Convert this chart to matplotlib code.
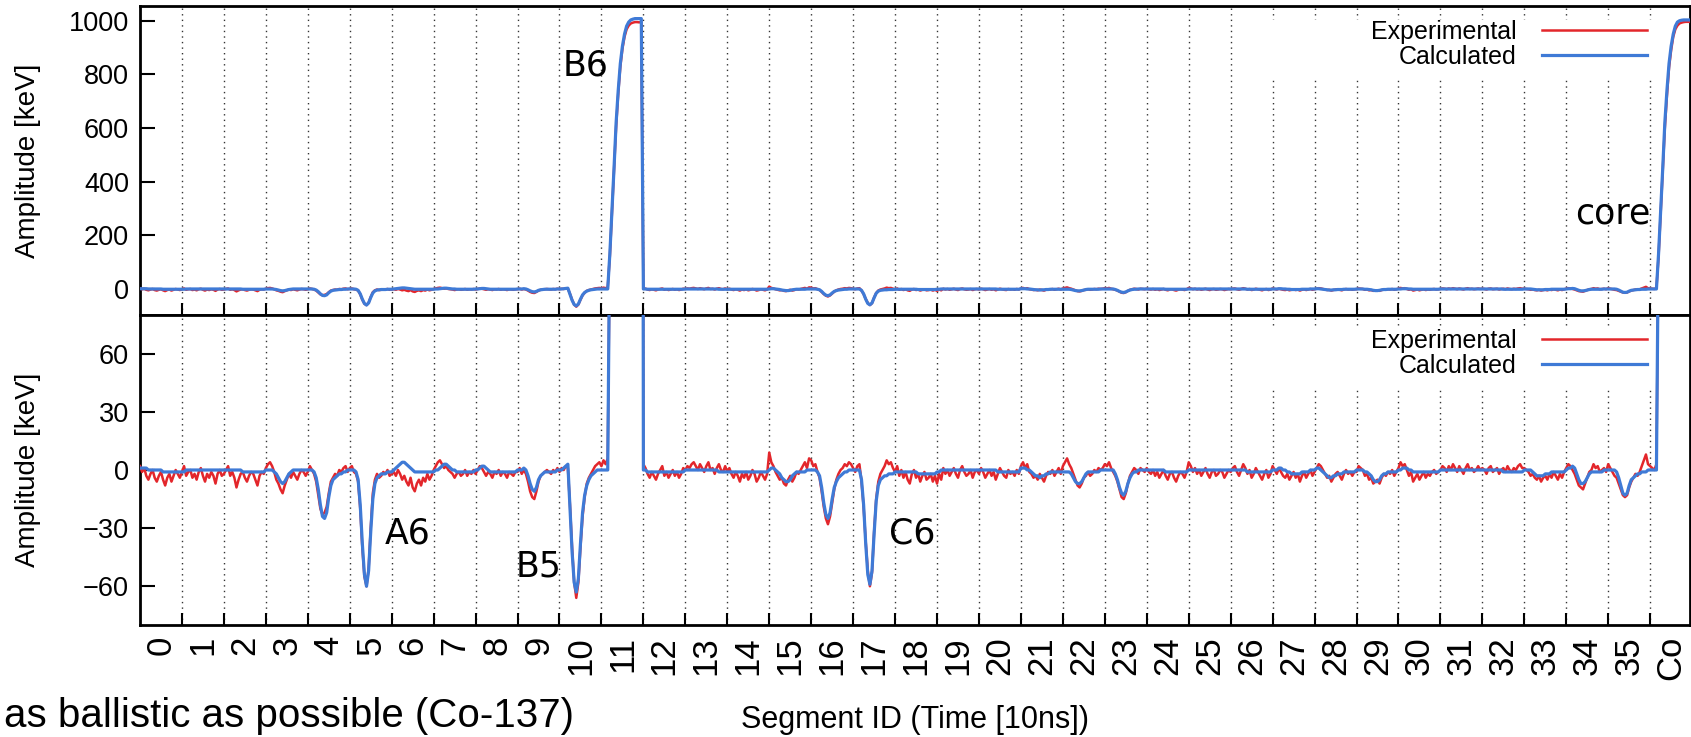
import numpy as np
import matplotlib
matplotlib.use("Agg")
from matplotlib import pyplot as plt
from matplotlib.patches import Rectangle

plt.rcParams['font.family'] = ['Liberation Sans', 'DejaVu Sans']

segment_ids = ['0', '1', '2', '3', '4', '5', '6', '7', '8', '9', '10', '11',
               '12', '13', '14', '15', '16', '17', '18', '19', '20', '21', '22',
               '23', '24', '25', '26', '27', '28', '29', '30', '31', '32', '33',
               '34', '35', 'Co']

# calculated trace, 20 samples (10 ns each) per segment, keV
calculated = [
    [1, 1, 1, 1, 0, 0, 0, 0, 0, 0, 0, -1, -1, -1, -1, -1, -1, -1, -1, -1],
    [-1, -1, 0, 0, 0, 0, 0, 0, 0, 0, 0, 0, 0, 0, 0, 0, 0, 0, 0, 0],
    [0, 0, 0, 0, 0, 0, 0, 0, 0, -1, -1, -1, -1, -1, -1, -1, -1, -1, -1, -1],
    [0, 0, 0, 0, -1, -2, -4, -6, -7, -6, -4, -2, -1, 0, 0, 0, 0, 0, 0, 0],
    [0, 0, 0, -1, -4, -10, -18, -24, -25, -22, -14, -8, -5, -4, -3, -2, -2, -1, -1, 0],
    [0, 0, 0, -1, -5, -18, -38, -54, -60, -52, -32, -15, -7, -4, -3, -2, -2, -2, -1, -1],
    [-1, 0, 1, 2, 3, 4, 4, 3, 2, 1, 0, -1, -1, -1, -1, -1, -1, -1, -1, -1],
    [-1, 0, 0, 1, 2, 3, 3, 2, 1, 0, 0, -1, -1, -1, -1, -1, -1, -1, -1, -1],
    [0, 0, 1, 2, 2, 1, 0, -1, -1, -1, -1, -1, -1, -1, -1, -1, -1, -1, -1, -1],
    [0, 0, 0, 1, 0, -3, -7, -10, -11, -9, -5, -3, -2, -1, -1, -1, -1, -1, -1, 0],
    [0, 0, 1, 2, 3, -20, -42, -58, -63, -56, -38, -22, -13, -8, -5, -3, -2, -1, 0, 0],
    [0, 0, 0, 0, 130, 290, 450, 620, 740, 840, 905, 950, 980, 995, 1003, 1006, 1008, 1008, 1008, 1008],
    [0, 0, -1, -1, -1, -1, -1, -1, -1, -1, -1, -1, -1, -1, -1, -1, -1, -1, -1, -1],
    [0, 0, 0, 0, 0, 0, 0, 0, 0, 0, 0, 0, 0, 0, 0, 0, -1, -1, -1, -1],
    [-1, -1, -1, -1, -1, -1, -1, -1, -1, -1, -1, -1, -1, -1, -1, -1, -1, -1, -1, -1],
    [0, 1, 1, 0, -1, -2, -4, -5, -6, -6, -5, -3, -2, -1, -1, -1, -1, -1, 0, 0],
    [0, 0, 0, -1, -3, -9, -17, -23, -25, -22, -15, -9, -6, -4, -3, -2, -1, -1, 0, 0],
    [0, 0, 0, 0, -5, -18, -38, -54, -59, -52, -33, -16, -8, -5, -4, -3, -3, -2, -2, -2],
    [-1, -1, -1, -1, -1, -1, -1, -1, -1, -1, -1, -2, -2, -2, -2, -2, -2, -2, -2, -2],
    [-1, -1, 0, 0, 0, 0, 0, 0, 0, 0, 0, 0, 0, 0, 0, 0, 0, 0, 0, 0],
    [0, 0, 0, 0, 0, 0, 0, 0, 0, -1, -1, -1, -1, -1, -1, -1, -1, -1, -1, -1],
    [1, 1, 1, 0, 0, -1, -2, -3, -3, -4, -3, -3, -2, -2, -1, -1, -1, -1, -1, -1],
    [-1, -1, -1, -1, -2, -4, -6, -7, -7, -6, -4, -2, -1, -1, -1, -1, -1, -1, 0, 0],
    [0, 0, 0, 0, 0, -2, -5, -9, -12, -13, -11, -7, -4, -2, -1, -1, 0, 0, 0, 0],
    [0, 0, 0, 0, 0, 0, 0, 0, 0, -1, -1, -1, -1, -1, -1, -1, -1, -1, -1, -1],
    [0, 0, 0, 0, 0, 0, 0, 0, 0, 0, 0, 0, 0, 0, 0, 0, 0, 0, 0, 0],
    [0, 0, 0, 0, 0, 0, 0, 0, -1, -1, -1, -1, -1, -1, -1, -1, -1, -1, -1, -1],
    [0, 0, 0, 1, 1, 0, 0, -1, -1, -2, -2, -2, -2, -2, -1, -1, -1, -1, 0, 0],
    [0, 1, 1, 0, -1, -2, -3, -4, -4, -3, -3, -2, -2, -2, -1, -1, -1, -1, -1, -1],
    [0, 0, 0, 0, -1, -1, -2, -3, -5, -6, -6, -5, -3, -2, -2, -1, -1, -1, -1, -1],
    [0, 0, 1, 1, 1, 0, 0, -1, -1, -1, -1, -1, -1, -1, -1, -1, -1, -1, -1, -1],
    [0, 0, 0, 0, 0, 0, 0, 0, 0, 0, 0, 0, 0, 0, 0, 0, 0, 0, 0, 0],
    [0, 0, 0, 0, 0, 0, 0, 0, 0, 0, -1, -1, -1, -1, -1, -1, -1, -1, -1, -1],
    [0, 0, 0, 0, -1, -2, -3, -3, -3, -3, -2, -2, -2, -1, -1, -1, -1, -1, -1, -1],
    [0, 1, 1, 2, 1, -2, -5, -7, -7, -6, -4, -2, -1, -1, -1, -1, -1, -1, 0, 0],
    [0, 0, 0, 0, -1, -4, -8, -12, -13, -12, -8, -5, -4, -3, -2, -2, -1, -1, -1, 0],
    [0, 0, 0, 0, 130, 290, 450, 620, 740, 840, 905, 950, 980, 995, 1000, 1002, 1003, 1003, 1003, 1003],
]

# measured trace, same sampling
experimental = [
    [2, -1, 1, -3, -5, -2, 0, -4, -6, -3, -1, -5, -8, -4, -2, -6, -3, 0, -2, -4],
    [-1, 2, -3, -1, 0, -4, -2, -5, -1, 1, -3, -6, -2, -4, -1, -3, -7, -2, 0, -3],
    [-2, 0, 2, -3, -1, -4, -9, -5, -2, -1, -4, -6, -3, -1, -2, -5, -8, -3, -1, -2],
    [1, 3, 4, 2, -1, -5, -7, -10, -12, -8, -5, -2, -4, -1, -3, -5, -2, 0, -1, -3],
    [-1, 2, 0, -2, -6, -13, -20, -23, -22, -19, -12, -6, -4, -2, -3, 0, -1, 1, 2, -1],
    [1, 2, -1, -2, -6, -20, -40, -55, -60, -51, -30, -12, -5, -2, -4, -3, -1, -2, 0, -3],
    [-2, -1, -3, 0, -2, -5, -3, -6, -8, -4, -9, -11, -7, -5, -8, -4, -6, -2, -5, -3],
    [0, 2, 4, 5, 3, 1, 2, 0, -1, -2, -4, -2, -1, -3, -2, 0, -3, -1, -2, 0],
    [-2, 0, 2, 1, -1, -3, -1, -2, -4, -1, -2, 0, -3, -1, -2, -4, -1, -2, -3, -1],
    [-1, 1, -2, 0, -2, -6, -11, -14, -15, -11, -6, -3, -2, -1, 0, -1, -2, 0, -1, 1],
    [-1, 1, 0, 2, 1, -18, -40, -58, -66, -58, -40, -24, -14, -7, -4, -2, 0, 2, 3, 4],
    [2, 5, 3, 6, 120, 280, 440, 605, 728, 828, 895, 940, 968, 982, 990, 993, 995, 995, 994, 995],
    [3, 1, -2, -4, -1, -3, -5, -2, 0, 2, -3, -1, -4, -2, 0, -3, -1, -4, -2, 1],
    [0, 2, 1, 3, 4, 2, 0, 3, 1, -1, 2, 4, 0, 1, -2, 1, 3, 0, -1, 2],
    [-1, 1, -2, -4, -1, -3, -6, -2, -4, -1, -5, -3, 0, -2, -6, -4, -1, -3, -5, -2],
    [9, 4, 2, -1, -3, -5, -4, -7, -8, -5, -3, -6, -4, -1, -2, 0, 2, 4, 1, 6],
    [5, 2, 3, -1, -4, -11, -19, -25, -28, -24, -17, -10, -5, -2, 0, 1, 3, 2, 4, 3],
    [1, -1, 2, 3, -6, -19, -37, -52, -60, -53, -32, -15, -6, -2, 0, 2, 5, 3, 4, 1],
    [-1, 2, -3, 0, -4, -1, -5, -7, -2, 0, -4, -2, -6, -3, -1, -5, -4, -2, -6, -3],
    [-7, -2, -5, 1, -2, 0, -3, -1, 1, -2, -4, 0, 2, -1, -3, -2, 0, -4, -1, 0],
    [-2, 1, -1, -4, -2, 0, -3, -1, -5, -2, 1, -1, -3, -4, 0, -2, -1, -3, 0, -2],
    [2, 4, 1, 3, -1, -2, -4, -3, -5, -2, -4, -6, -3, -1, -2, 0, -3, -1, 1, -2],
    [2, 4, 6, 3, 1, -2, -5, -8, -9, -7, -4, -3, -1, -3, -2, 0, -1, 1, 0, 1],
    [3, 2, 4, 1, -1, -3, -6, -10, -14, -15, -12, -7, -3, -1, 1, 0, -2, 1, 0, -1],
    [1, -1, -2, 0, -3, -1, -4, -2, 0, -3, -5, -2, -1, -4, -6, -3, -1, -2, -4, -1],
    [4, 2, -1, 1, -2, 0, -3, -1, 1, -2, -4, -1, 0, -3, -2, 0, -1, -4, -2, 0],
    [-1, 1, 2, -1, -3, 0, 3, 1, -2, 0, -4, -2, 1, -1, -3, -5, -2, 0, -4, -2],
    [2, 0, -2, 1, -1, -3, -4, -2, -5, -3, -1, -4, -2, -6, -3, -1, -4, -2, 0, -3],
    [-1, 1, 3, 2, 0, -2, -4, -3, -6, -4, -2, -1, -3, -5, -2, 0, -2, -1, -3, -1],
    [-1, 2, 1, 0, -3, -2, -5, -4, -7, -6, -5, -7, -4, -2, -3, -1, -2, 0, -3, -1],
    [1, 4, 2, 3, 0, -3, -1, -6, -4, -2, -5, -3, -1, -4, -2, -3, -1, 0, -2, -1],
    [0, 2, 1, -1, 2, 0, 3, 1, -1, 2, 0, -2, 1, 3, 0, 1, -1, 0, 2, 0],
    [1, 0, -2, 1, 2, -1, 0, 1, -2, 0, 1, -1, 2, 0, -1, 1, 0, 2, 3, 1],
    [1, 0, -1, -3, -2, -4, -5, -3, -6, -4, -3, -5, -2, -4, -1, -3, -5, -2, -4, -1],
    [1, 3, 2, 0, -2, -5, -8, -9, -10, -7, -4, -1, 0, 3, 1, 2, -1, 0, 1, -1],
    [3, 1, -1, -3, -4, -7, -10, -13, -14, -13, -9, -6, -4, -2, -3, -1, 2, 5, 8, 3],
    [2, 1, 0, 3, 120, 280, 440, 600, 720, 825, 890, 940, 968, 982, 990, 993, 995, 996, 996, 996],
]

n_samples = 20
n_seg = len(segment_ids)
x = np.concatenate([k + np.arange(n_samples) / n_samples for k in range(n_seg)])
calc = np.concatenate(calculated)
expt = np.concatenate(experimental)
assert len(calc) == len(expt) == len(x)

W, H = 1691, 737
red = '#e3262b'
blue = '#3f7ad6'

fig = plt.figure(figsize=(W / 100, H / 100), dpi=100)
ax_top = fig.add_axes([140 / W, 1 - 315 / H, 1550 / W, 309 / H])
ax_bot = fig.add_axes([140 / W, 1 - 625 / H, 1550 / W, 310 / H])

for ax in (ax_top, ax_bot):
    ax.plot(x, expt, color=red, lw=1.8, label='Experimental', zorder=3)
    ax.plot(x, calc, color=blue, lw=2.3, label='Calculated', zorder=4)
    ax.set_xlim(0, 36.95)
    ax.set_xticks(np.arange(1, n_seg))
    ax.set_xticks(np.arange(n_seg) + 0.5, minor=True)
    ax.tick_params(axis='x', which='major', direction='in', length=9, width=1.5,
                   labelbottom=False)
    ax.tick_params(axis='x', which='minor', length=0, labelbottom=False)
    ax.tick_params(axis='y', direction='in', length=11, width=1.5, labelsize=19.5, pad=8)
    ax.grid(axis='x', which='major', linestyle=(0, (1, 3)), color='#333333', lw=1.0)
    for sp in ax.spines.values():
        sp.set_linewidth(2.0)
    # white box behind the key hides the grid there
    ax.add_patch(Rectangle((0.729, 0.761), 0.248, 0.194, transform=ax.transAxes,
                           facecolor='white', edgecolor='none', zorder=2))
    ax.legend(loc='upper right', bbox_to_anchor=(0.972, 0.955), markerfirst=False,
              frameon=False, fontsize=18, handlelength=4.2, handletextpad=1.0,
              labelspacing=0.05, borderpad=0, borderaxespad=0)
    ax.set_ylabel('Amplitude [keV]', fontsize=20, va='center')
    ax.yaxis.set_label_coords(-0.0723, 0.5)

ax_top.set_ylim(-97, 1055)
ax_top.set_yticks([0, 200, 400, 600, 800, 1000])
ax_bot.set_ylim(-80, 80)
ax_bot.set_yticks([-60, -30, 0, 30, 60])

ax_bot.set_xticklabels(segment_ids, minor=True, rotation=90, fontsize=25, va='top')
ax_bot.tick_params(axis='x', which='minor', labelbottom=True, pad=8)
ax_bot.set_xlabel('Segment ID (Time [10ns])', fontsize=22, va='center',
                  family=['Liberation Sans Narrow', 'Liberation Sans'])
ax_bot.xaxis.set_label_coords(0.5, -0.306)

# segment names next to the transients
ann = dict(family='DejaVu Sans', fontsize=25, ha='center', va='center', zorder=5)
ax_top.text(10.63, 835, 'B6', **ann)
ax_top.text(35.1, 283, 'core', **ann)
ax_bot.text(6.39, -33, 'A6', **ann)
ax_bot.text(9.51, -49.6, 'B5', **ann)
ax_bot.text(18.41, -33, 'C6', **ann)

fig.text(4 / W, 1 - 727 / H, 'as ballistic as possible (Co-137)', fontsize=29,
         ha='left', va='baseline')

fig.savefig('out.png', dpi=100, facecolor='white')
